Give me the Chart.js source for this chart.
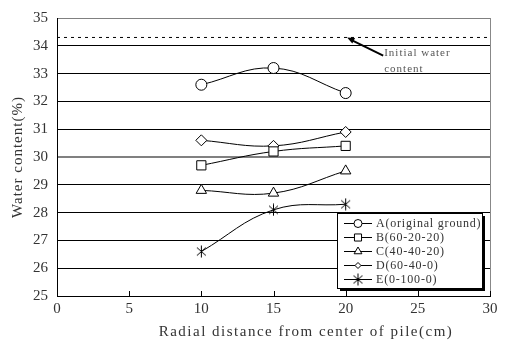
<meta charset="UTF-8">
<style>
  html, body { margin: 0; padding: 0; background: #fff; }
  #wrap { width: 508px; height: 345px; }
</style>
<div id="wrap">
  <canvas id="myChart"></canvas>
</div>

<script src="https://cdn.jsdelivr.net/npm/chart.js@4.3.0/dist/chart.umd.min.js"></script>

<script>
  const distances = [10, 15, 20];
  const seriesA = [32.6, 33.2, 32.3];
  const seriesB = [29.7, 30.2, 30.4];
  const seriesC = [28.8, 28.7, 29.5];
  const seriesD = [30.6, 30.4, 30.9];
  const seriesE = [26.6, 28.1, 28.3];
  const seriesNames = ['A(original ground)', 'B(60-20-20)', 'C(40-40-20)', 'D(60-40-0)', 'E(0-100-0)'];
  const initialWater = 34.3;
  const initialX = [0, 30];
  const xTicks = [0, 5, 10, 15, 20, 25, 30];

  const FONT = '"Liberation Serif", "DejaVu Serif", serif';
  const TXT = '#333';

  // asterisk marker for E (X with a vertical bar)
  const star = document.createElement('canvas');
  star.width = 13; star.height = 13;
  (function () {
    const c = star.getContext('2d');
    c.strokeStyle = '#000';
    c.lineWidth = 1;
    c.beginPath();
    c.moveTo(2, 2.5); c.lineTo(11, 10.5);
    c.moveTo(11, 2.5); c.lineTo(2, 10.5);
    c.moveTo(6.5, 0.5); c.lineTo(6.5, 12.5);
    c.stroke();
  })();

  const styles = [
    { pointStyle: 'circle', radius: 5.5 },
    { pointStyle: 'rect', radius: 6.5 },
    { pointStyle: 'triangle', radius: 6 },
    { pointStyle: 'rectRot', radius: 5.5 },
    { pointStyle: star, radius: 6 },
  ];
  const values = [seriesA, seriesB, seriesC, seriesD, seriesE];

  const datasets = values.map((vals, i) => ({
    label: seriesNames[i],
    data: distances.map((x, j) => ({ x: x, y: vals[j] })),
    borderColor: '#000',
    borderWidth: 1,
    pointStyle: styles[i].pointStyle,
    pointRadius: styles[i].radius,
    pointBorderColor: '#000',
    pointBackgroundColor: '#fff',
    pointBorderWidth: 1,
    tension: 0.4,
    fill: false,
  }));

  datasets.push({
    label: 'initial',
    data: initialX.map(x => ({ x: x, y: initialWater })),
    borderColor: '#000',
    borderWidth: 1,
    borderDash: [3, 4],
    pointRadius: 0,
    fill: false,
  });

  const extras = {
    id: 'extras',
    afterDraw(chart) {
      const ctx = chart.ctx;
      const a = chart.chartArea;
      const xs = chart.scales.x, ys = chart.scales.y;
      ctx.save();

      // right border
      ctx.strokeStyle = '#888';
      ctx.lineWidth = 1;
      ctx.beginPath();
      ctx.moveTo(a.right + 0.5, a.top);
      ctx.lineTo(a.right + 0.5, a.bottom);
      ctx.stroke();

      // x ticks pointing inside
      ctx.strokeStyle = '#000';
      ctx.beginPath();
      xTicks.forEach(v => {
        const px = Math.round(xs.getPixelForValue(v)) + 0.5;
        ctx.moveTo(px, a.bottom);
        ctx.lineTo(px, a.bottom - 5);
      });
      ctx.stroke();

      // arrow to the initial water line
      const tipX = xs.getPixelForValue(20.1), tipY = ys.getPixelForValue(initialWater);
      const tailX = xs.getPixelForValue(22.6), tailY = ys.getPixelForValue(33.65);
      ctx.strokeStyle = '#000';
      ctx.lineWidth = 2;
      ctx.beginPath();
      ctx.moveTo(tailX, tailY);
      ctx.lineTo(tipX + 4, tipY + 2.5);
      ctx.stroke();
      const ang = Math.atan2(tipY - tailY, tipX - tailX);
      ctx.fillStyle = '#000';
      ctx.beginPath();
      ctx.moveTo(tipX, tipY);
      ctx.lineTo(tipX - 8 * Math.cos(ang - 0.4), tipY - 8 * Math.sin(ang - 0.4));
      ctx.lineTo(tipX - 8 * Math.cos(ang + 0.4), tipY - 8 * Math.sin(ang + 0.4));
      ctx.closePath();
      ctx.fill();

      ctx.fillStyle = '#555';
      ctx.font = '11px ' + FONT;
      ctx.letterSpacing = '1px';
      ctx.textBaseline = 'middle';
      ctx.textAlign = 'left';
      ctx.fillText('Initial water', tailX + 1, 53);
      ctx.fillText('content', tailX + 1, 69);

      // axis titles
      ctx.fillStyle = TXT;
      ctx.font = '15px ' + FONT;
      ctx.letterSpacing = '1.5px';
      ctx.textAlign = 'center';
      ctx.fillText('Radial distance from center of pile(cm)', 306, 332);
      ctx.save();
      ctx.translate(18, (a.top + a.bottom) / 2);
      ctx.rotate(-Math.PI / 2);
      ctx.letterSpacing = '1px';
      ctx.fillText('Water content(%)', 0, 0);
      ctx.restore();

      // legend box
      const bx = 337, by = 213, bw = 145, bh = 75;
      ctx.fillStyle = '#000';
      ctx.fillRect(bx + 3, by + 3, bw, bh);
      ctx.fillStyle = '#fff';
      ctx.fillRect(bx, by, bw, bh);
      ctx.strokeStyle = '#000';
      ctx.lineWidth = 1;
      ctx.strokeRect(bx + 0.5, by + 0.5, bw, bh);

      ctx.font = '12px ' + FONT;
      ctx.letterSpacing = '0.8px';
      ctx.textAlign = 'left';
      seriesNames.forEach((name, i) => {
        const y = by + 9.5 + i * 14.2;
        ctx.strokeStyle = '#000';
        ctx.lineWidth = 1;
        ctx.beginPath();
        ctx.moveTo(bx + 7, Math.round(y) + 0.5);
        ctx.lineTo(bx + 35, Math.round(y) + 0.5);
        ctx.stroke();
        ctx.fillStyle = '#fff';
        Chart.helpers.drawPoint(ctx, {
          pointStyle: styles[i].pointStyle,
          radius: i === 3 ? 3 : styles[i].radius - 1.5,
          borderWidth: 1,
        }, bx + 21, Math.round(y) + 0.5);
        ctx.fillStyle = TXT;
        ctx.fillText(name, bx + 39, y + 1);
      });

      ctx.restore();
    }
  };

  new Chart(document.getElementById('myChart'), {
    type: 'line',
    data: { datasets: datasets },
    options: {
      responsive: true,
      maintainAspectRatio: false,
      animation: false,
      layout: { padding: { top: 11, right: 18, left: 0, bottom: 0 } },
      plugins: {
        legend: { display: false },
        tooltip: { enabled: false },
      },
      scales: {
        x: {
          type: 'linear',
          min: 0,
          max: 30,
          afterFit: s => { s.height = 49; },
          afterBuildTicks: s => { s.ticks = xTicks.map(v => ({ value: v })); },
          grid: { display: false, drawTicks: false },
          border: { display: true, color: '#000', width: 1 },
          ticks: { color: TXT, font: { family: FONT, size: 15 }, padding: 4 },
          title: { display: false },
        },
        y: {
          min: 25,
          max: 35,
          afterFit: s => { s.width = 57; },
          grid: {
            drawTicks: false,
            color: c => (c.tick && (c.tick.value === 30 || c.tick.value === 35)) ? '#808080' : '#000',
            lineWidth: c => (c.tick && c.tick.value === 30) ? 2 : 1,
          },
          border: { display: true, color: '#000', width: 1 },
          ticks: { stepSize: 1, color: TXT, font: { family: FONT, size: 15 }, padding: 9 },
          title: { display: false },
        },
      },
    },
    plugins: [extras],
  });
</script>
